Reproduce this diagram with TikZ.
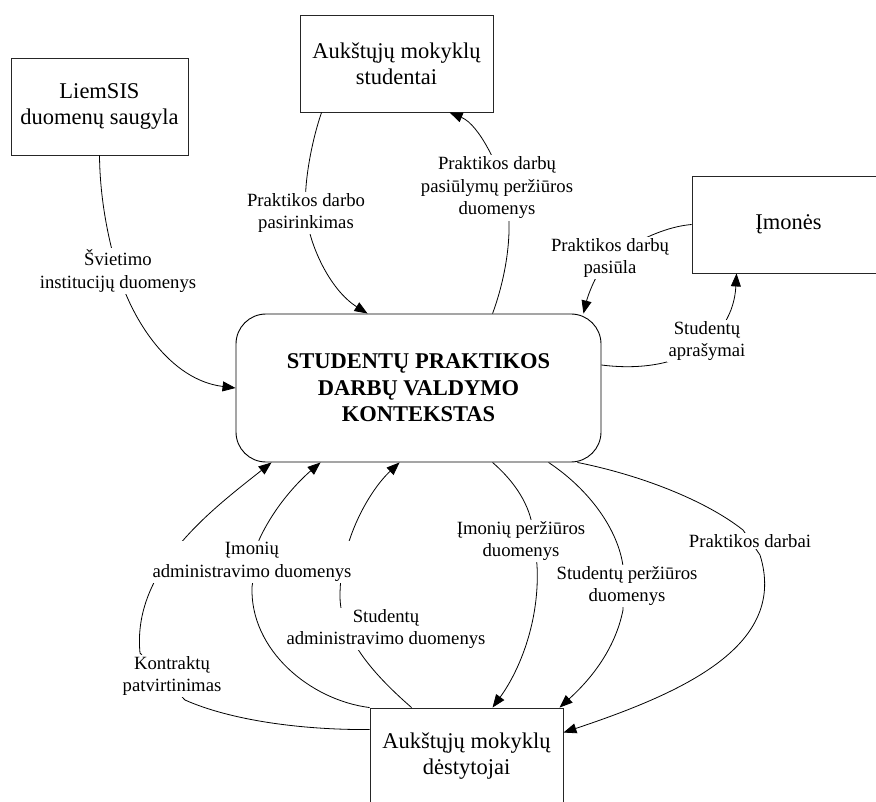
\documentclass[tikz,border=0pt]{standalone}
\usepackage{fontspec}
\setmainfont{Liberation Serif}
\usetikzlibrary{arrows.meta,calc}

\tikzset{
  entity/.style={draw=black!85, line width=0.9pt, minimum width=193pt,
    minimum height=97pt, align=center, inner sep=0pt,
    font=\fontsize{22.5}{26}\selectfont},
  process/.style={draw, line width=0.9pt, rounded corners=30pt,
    minimum width=365pt, minimum height=148pt, align=center, inner sep=0pt,
    font=\fontsize{22.5}{26.5}\selectfont\bfseries},
  flowlabel/.style={fill=white, inner sep=1.5pt, align=center,
    font=\fontsize{18.7}{22.5}\selectfont},
  flow/.style={line width=0.8pt, -{Triangle[length=13pt,width=10pt]}},
}

\begin{document}
\begin{tikzpicture}[x=1pt, y=-1pt]
\useasboundingbox (0,0) rectangle (876,802);

% external entities and the process
\node[entity, minimum width=177pt] (liem) at (99.5,106.5) {LiemSIS\\duomenų saugyla};
\node[entity] (stud) at (396.5,63.5) {Aukštųjų mokyklų\\studentai};
\node[entity] (imon) at (788.5,224.5) {Įmonės};
\node[entity] (dest) at (466.5,756.5) {Aukštųjų mokyklų\\dėstytojai};
\node[process] (ctx) at (418.5,388) {STUDENTŲ PRAKTIKOS\\DARBŲ VALDYMO\\KONTEKSTAS};

% data flows
\draw[flow] (liem.south) .. controls (100,210) and (113,255) .. (118,272)
  .. controls (132,320) and (170,380) .. (ctx.west);

\draw[flow] ($(stud.south west)+(22,0)$) .. controls (312,140) and (303,185) .. (306,213)
  .. controls (309,245) and (330,290) .. ($(ctx.north west)+(132,0)$);

\draw[flow] ($(ctx.north west)+(257,0)$) .. controls (505,280) and (515,230) .. (505,190)
  .. controls (500,170) and (480,125) .. ($(stud.south west)+(150,0)$);

\draw[flow] (imon.west) .. controls (675,226) and (650,232) .. (610,258)
  .. controls (598,268) and (588,295) .. ($(ctx.north east)+(-18,0)$);

\draw[flow] ($(ctx.east)+(0,-23)$) .. controls (680,375) and (733,340) .. ($(imon.south west)+(45,0)$);

\draw[flow] ($(dest.north west)+(0,22)$) .. controls (300,730) and (230,720) .. (185,700)
  -- (140,653) .. controls (132,570) and (210,511) .. ($(ctx.south west)+(36,0)$);

\draw[flow] (dest.north west) .. controls (310,700) and (250,650) .. (252,587)
  -- (259,540) .. controls (275,505) and (300,480) .. ($(ctx.south west)+(85,0)$);

\draw[flow] ($(dest.north west)+(42,0)$) .. controls (380,680) and (340,640) .. (340,596)
  .. controls (340,540) and (370,490) .. ($(ctx.south west)+(164,0)$);

\draw[flow] ($(ctx.south west)+(257,0)$) .. controls (515,482) and (530,505) .. (533,530)
  -- (537,565) .. controls (540,620) and (520,670) .. ($(dest.north west)+(123,0)$);

\draw[flow] ($(ctx.south west)+(313,0)$) .. controls (590,490) and (618,530) .. (623,566)
  -- (623,610) .. controls (615,650) and (590,680) .. ($(dest.north west)+(190,0)$);

\draw[flow] ($(ctx.south east)+(-24,0)$) .. controls (640,475) and (705,500) .. (743,530)
  -- (760,555) .. controls (788,645) and (685,692) .. ($(dest.north east)+(0,25)$);

% flow labels
\node[flowlabel] (l1) at (118,271) {Švietimo\\institucijų duomenys};
\node[flowlabel] (l2) at (306,213) {Praktikos darbo\\pasirinkimas};
\node[flowlabel] (l3) at (497,188) {Praktikos darbų\\pasiūlymų peržiūros\\duomenys};
\node[flowlabel] (l4) at (610,258) {Praktikos darbų\\pasiūla};
\node[flowlabel] (l5) at (707,341) {Studentų\\aprašymai};
\node[flowlabel] (l6) at (172,676) {Kontraktų\\patvirtinimas};
\node[flowlabel] (l7) at (252,562) {Įmonių\\administravimo duomenys};
\node[flowlabel] (l8) at (386,629) {Studentų\\administravimo duomenys};
\node[flowlabel] (l9) at (521,541) {Įmonių peržiūros\\duomenys};
\node[flowlabel] (l10) at (627,586) {Studentų peržiūros\\duomenys};
\node[flowlabel] (l11) at (750,541) {Praktikos darbai};
\end{tikzpicture}
\end{document}
